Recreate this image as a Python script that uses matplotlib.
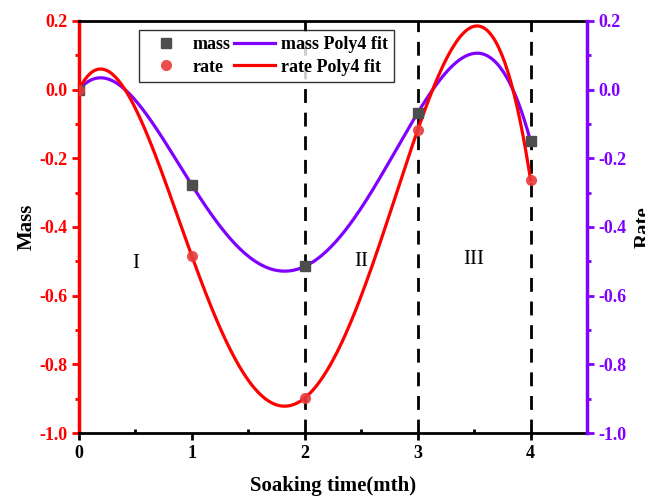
import numpy as np
import matplotlib
matplotlib.use("Agg")
import matplotlib.pyplot as plt
from matplotlib.ticker import MultipleLocator, FuncFormatter

# data
months = [0, 1, 2, 3, 4]
mass = [0.0, -0.278, -0.515, -0.068, -0.150]
rate = [0.0, -0.485, -0.898, -0.118, -0.262]
stage_lines = [2, 3, 4]
stage_labels = ["I", "II", "III"]
stage_pos = [(0.5, -0.505), (2.5, -0.50), (3.5, -0.495)]

RED = "#FF0000"
PURPLE = "#7F00FF"

plt.rcParams["font.family"] = ["Liberation Serif", "DejaVu Serif"]

fig = plt.figure(figsize=(6.45, 4.98), dpi=100)
ax = fig.add_axes([0.1225, 0.1305, 0.7875, 0.8275])

# Poly4 fits
xs = np.linspace(0, 4, 300)
mass_fit = np.polyval(np.polyfit(months, mass, 4), xs)
rate_fit = np.polyval(np.polyfit(months, rate, 4), xs)

for xv in stage_lines:
    ax.axvline(xv, color="black", ls=(0, (5, 3.5)), lw=2, zorder=1)

l_mfit, = ax.plot(xs, mass_fit, color=PURPLE, lw=2.3, zorder=3, label="mass Poly4 fit")
l_rfit, = ax.plot(xs, rate_fit, color=RED, lw=2.3, zorder=3, label="rate Poly4 fit")
s_mass, = ax.plot(months, mass, "s", color="#4d4d4d", ms=7, zorder=4, label="mass")
s_rate, = ax.plot(months, rate, "o", color="#E83A3A", alpha=0.9, ms=8, mec="none", zorder=4, label="rate")

for lab, (xp, yp) in zip(stage_labels, stage_pos):
    ax.text(xp, yp, lab, fontsize=15, ha="center", va="center")

fmt = FuncFormatter(lambda v, p: f"{v:.1f}")

ax.set_xlim(0, 4.5)
ax.set_ylim(-1.0, 0.2)
ax.set_xticks([0, 1, 2, 3, 4])
ax.xaxis.set_minor_locator(MultipleLocator(0.5))
ax.yaxis.set_major_locator(MultipleLocator(0.2))
ax.yaxis.set_minor_locator(MultipleLocator(0.1))
ax.yaxis.set_major_formatter(fmt)

ax.tick_params(axis="x", which="major", direction="out", length=5, width=2, labelsize=13)
ax.tick_params(axis="x", which="minor", direction="in", length=3, width=2)
ax.tick_params(axis="y", which="both", direction="out", width=2, colors=RED, labelsize=13)
ax.tick_params(axis="y", which="major", length=5)
ax.tick_params(axis="y", which="minor", length=3)
for lab in ax.get_xticklabels() + ax.get_yticklabels():
    lab.set_fontweight("bold")

ax.spines["left"].set_color(RED)
ax.spines["left"].set_linewidth(2.5)
ax.spines["right"].set_visible(False)
ax.spines["top"].set_linewidth(2)
ax.spines["bottom"].set_linewidth(2)

ax2 = ax.twinx()
ax2.set_ylim(-1.0, 0.2)
ax2.yaxis.set_major_locator(MultipleLocator(0.2))
ax2.yaxis.set_minor_locator(MultipleLocator(0.1))
ax2.yaxis.set_major_formatter(fmt)
ax2.tick_params(axis="y", which="both", direction="out", width=2, colors=PURPLE, labelsize=13)
ax2.tick_params(axis="y", which="major", length=5)
ax2.tick_params(axis="y", which="minor", length=3)
for lab in ax2.get_yticklabels():
    lab.set_fontweight("bold")
ax2.spines["right"].set_color(PURPLE)
ax2.spines["right"].set_linewidth(2.5)
for s in ["left", "top", "bottom"]:
    ax2.spines[s].set_visible(False)

ax.set_xlabel("Soaking time(mth)", fontsize=15, fontweight="bold", labelpad=10)
ax.set_ylabel("Mass", fontsize=15, fontweight="bold", labelpad=2)
ax2.set_ylabel("Rate", fontsize=15, fontweight="bold", labelpad=5)

leg = ax.legend([s_mass, s_rate, l_mfit, l_rfit],
                ["mass", "rate", "mass Poly4 fit", "rate Poly4 fit"],
                ncol=2, loc="upper left", bbox_to_anchor=(0.118, 0.978),
                frameon=True, fancybox=False, edgecolor="black",
                prop={"weight": "bold", "size": 13},
                handlelength=2.3, handletextpad=0.3, columnspacing=0.2,
                borderpad=0.35, labelspacing=0.3, borderaxespad=0)
leg.get_frame().set_linewidth(1)

fig.savefig("out.png", dpi=100)
